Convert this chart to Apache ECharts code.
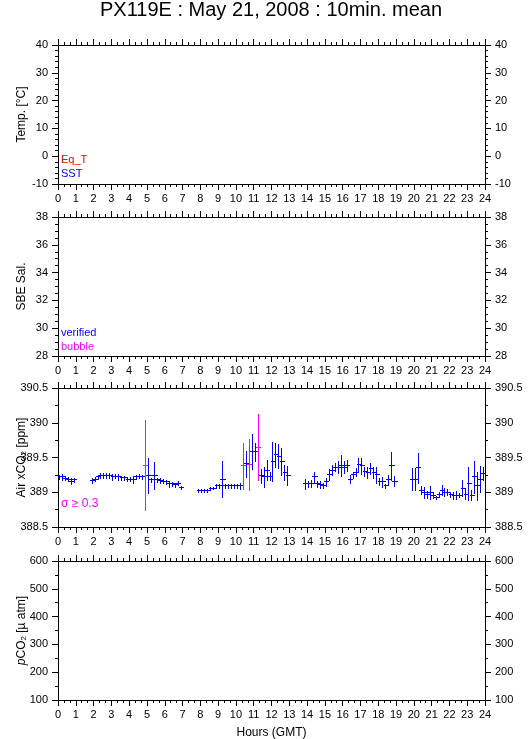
<!DOCTYPE html>
<html>
<head>
<meta charset="utf-8">
<script src="https://cdn.jsdelivr.net/npm/echarts@6/dist/echarts.min.js"></script>
<style>
html,body{margin:0;padding:0;background:#fff;}
#chart{width:529px;height:739px;}
</style>
</head>
<body>
<div id="chart"></div>
<script>
// ---------- data ----------
const hourTicks = [0,1,2,3,4,5,6,7,8,9,10,11,12,13,14,15,16,17,18,19,20,21,22,23,24];
const tempTicks = [-10,0,10,20,30,40];
const salTicks = [28,30,32,34,36,38];
const xco2Ticks = [388.5,389,389.5,390,390.5];
const pco2Ticks = [100,200,300,400,500,600];

const titleText = 'PX119E : May 21, 2008 : 10min. mean';

// 10-minute means (GMT time stamp at the middle of each interval)
const times = [
  '00:05','00:15','00:25','00:35','00:45','00:55',
  '01:55','02:05','02:15','02:25','02:35','02:45','02:55','03:05','03:15','03:25','03:35','03:45','03:55','04:05','04:15','04:25','04:35','04:45','04:55','05:05','05:15','05:25','05:35','05:45','05:55','06:05','06:15','06:25','06:35','06:45','06:55',
  '07:55','08:05','08:15','08:25','08:35','08:45','08:55','09:05','09:15','09:25','09:35','09:45','09:55','10:05','10:15','10:25','10:35','10:45','10:55','11:05','11:15','11:25','11:35','11:45','11:55','12:05','12:15','12:25','12:35','12:45','12:55',
  '13:55','14:05','14:15','14:25','14:35','14:45','14:55','15:05','15:15','15:25','15:35','15:45','15:55','16:05','16:15','16:25','16:35','16:45','16:55','17:05','17:15','17:25','17:35','17:45','17:55','18:05','18:15','18:25','18:35','18:45','18:55',
  '19:55','20:05','20:15','20:25','20:35','20:45','20:55','21:05','21:15','21:25','21:35','21:45','21:55','22:05','22:15','22:25','22:35','22:45','22:55','23:05','23:15','23:25','23:35','23:45','23:55'
];
const airXco2 = [
  389.22,389.22,389.20,389.19,389.16,389.18,
  389.17,389.19,389.22,389.24,389.24,389.24,389.24,389.22,389.23,389.22,389.21,389.21,389.19,389.19,389.18,389.22,389.23,389.22,389.39,389.24,389.18,389.24,389.18,389.17,389.16,389.15,389.12,389.12,389.11,389.13,389.07,
  389.03,389.03,389.03,389.03,389.05,389.06,389.09,389.09,389.19,389.09,389.09,389.09,389.09,389.09,389.09,389.38,389.41,389.40,389.59,389.58,389.65,389.24,389.22,389.32,389.23,389.44,389.54,389.52,389.44,389.28,389.24,
  389.12,389.12,389.13,389.22,389.12,389.11,389.10,389.15,389.26,389.32,389.36,389.36,389.38,389.36,389.38,389.19,389.25,389.29,389.40,389.38,389.30,389.29,389.34,389.29,389.25,389.16,389.15,389.09,389.18,389.38,389.16,
  389.19,389.19,389.35,389.03,389.00,388.97,389.00,388.96,388.93,388.97,389.03,389.00,389.00,388.97,388.96,388.96,388.96,389.06,388.97,389.13,388.96,389.22,389.09,389.19,389.27
];
const airXco2Sigma = [
  0.03,0.04,0.03,0.03,0.04,0.03,
  0.03,0.03,0.03,0.03,0.03,0.03,0.03,0.04,0.03,0.04,0.03,0.03,0.03,0.03,0.05,0.03,0.03,0.03,0.65,0.25,0.03,0.20,0.03,0.03,0.03,0.03,0.04,0.03,0.03,0.03,0.02,
  0.02,0.02,0.02,0.02,0.02,0.02,0.03,0.03,0.26,0.03,0.03,0.03,0.03,0.03,0.04,0.33,0.19,0.37,0.25,0.13,0.48,0.10,0.15,0.14,0.06,0.28,0.17,0.17,0.19,0.11,0.14,
  0.07,0.04,0.05,0.07,0.04,0.05,0.04,0.06,0.08,0.07,0.06,0.09,0.15,0.09,0.08,0.06,0.04,0.06,0.10,0.12,0.07,0.08,0.08,0.08,0.11,0.05,0.07,0.03,0.07,0.20,0.07,
  0.16,0.16,0.22,0.06,0.08,0.05,0.09,0.04,0.02,0.04,0.07,0.06,0.04,0.04,0.05,0.06,0.03,0.12,0.07,0.24,0.07,0.23,0.20,0.19,0.09
];
const sigmaThreshold = 0.3;

// ---------- presentation ----------
const FONT = "'Liberation Sans', Arial, Helvetica, sans-serif";
const BLUE = '#0000ff', MAGENTA = '#ff00ff', RED = '#ff0000';
const GRID_LEFT = 58, GRID_W = 427, GRID_H = 139;
const panelTops = [45, 217, 388, 561];
const halfBarHours = 0.12;

function toHours(s){ const p = s.split(':'); return (+p[0]) + (+p[1])/60; }

const panels = [
  {ticks: tempTicks, minor: 5, name: 'Temp. [°C]'},
  {ticks: salTicks, minor: 4, name: 'SBE Sal.'},
  {ticks: xco2Ticks, minor: 2, name: 'Air xCO{sub|2} [ppm]'},
  {ticks: pco2Ticks, minor: 2, name: '{i|p}CO{sub|2} [µ atm]'}
];

const grids = [], xAxes = [], yAxes = [];
const lineStyle = {color:'#000', width:1};
const labelStyle = {color:'#000', fontSize:11, fontFamily: FONT};
panels.forEach((p, i) => {
  grids.push({left: GRID_LEFT, top: panelTops[i], width: GRID_W, height: GRID_H,
    containLabel:false, outerBoundsMode:'none'});
  const xBase = {
    gridIndex: i, type:'value', min: hourTicks[0], max: hourTicks[hourTicks.length-1],
    interval: hourTicks[1]-hourTicks[0],
    axisLine:{show:true, onZero:false, lineStyle},
    axisTick:{show:true, inside:false, length:6, lineStyle},
    minorTick:{show:true, splitNumber:3, length:3, lineStyle},
    splitLine:{show:false}, minorSplitLine:{show:false}
  };
  xAxes.push(Object.assign({}, xBase, {
    position:'bottom',
    axisLabel:Object.assign({show:true, margin:9}, labelStyle),
    name: i === 3 ? 'Hours (GMT)' : '',
    nameLocation:'middle', nameGap: 27, nameMoveOverlap:false,
    nameTextStyle:{color:'#000', fontSize:12, fontFamily: FONT}
  }));
  xAxes.push(Object.assign({}, xBase, {position:'top', axisLabel:{show:false}}));
  const yBase = {
    gridIndex: i, type:'value', min: p.ticks[0], max: p.ticks[p.ticks.length-1],
    interval: p.ticks[1]-p.ticks[0],
    axisLine:{show:true, onZero:false, lineStyle},
    axisTick:{show:true, inside:false, length:6, lineStyle},
    minorTick:{show:true, splitNumber:p.minor, length:3, lineStyle},
    splitLine:{show:false}, minorSplitLine:{show:false},
    axisLabel:Object.assign({show:true, margin:10}, labelStyle)
  };
  yAxes.push(Object.assign({}, yBase, {
    position:'left', name: p.name, nameLocation:'middle', nameGap: 30, nameRotate: 90,
    nameMoveOverlap:false,
    nameTextStyle:{color:'#000', fontSize:12, fontFamily: FONT,
      rich:{
        sub:{fontSize:8, fontFamily: FONT, color:'#000', verticalAlign:'bottom', padding:[5,0,0,0]},
        i:{fontSize:12, fontFamily: FONT, color:'#000', fontStyle:'italic'}
      }}
  }));
  yAxes.push(Object.assign({}, yBase, {position:'right'}));
});

const xco2Data = times.map((t, k) => [toHours(t), airXco2[k], airXco2Sigma[k]]);

function renderErrorBar(params, api){
  const t = api.value(0), v = api.value(1), s = api.value(2);
  const pTop = api.coord([t, v + s]);
  const pBot = api.coord([t, v - s]);
  const pL = api.coord([t - halfBarHours, v]);
  const pR = api.coord([t + halfBarHours, v]);
  const color = s >= sigmaThreshold ? MAGENTA : BLUE;
  const cx = Math.floor(pTop[0]) + 0.5;
  const cy = Math.floor(pL[1]) + 0.5;
  const st = {stroke: color, lineWidth: 1};
  return {
    type:'group',
    children:[
      {type:'line', shape:{x1:cx, y1:Math.round(pTop[1]), x2:cx, y2:Math.round(pBot[1]) + 1}, style:st},
      {type:'line', shape:{x1:Math.round(pL[0]), y1:cy, x2:Math.round(pR[0]) + 1, y2:cy}, style:st}
    ]
  };
}

const textStyle = (text, x, y, fill, size) => ({
  type:'text', x, y,
  style:{text, fill, font: size + 'px ' + FONT, textAlign:'left', textVerticalAlign:'middle'}
});

const option = {
  animation:false,
  backgroundColor:'#fff',
  grid: grids,
  xAxis: xAxes,
  yAxis: yAxes,
  series:[{
    type:'custom',
    xAxisIndex: 4, yAxisIndex: 4,
    renderItem: renderErrorBar,
    encode:{x:0, y:1},
    data: xco2Data,
    clip:true
  }],
  graphic:[
    {type:'text', x:271, y:10, style:{text:titleText, fill:'#000', font:'20px ' + FONT, textAlign:'center', textVerticalAlign:'middle'}},
    textStyle('Eq_T', 61, 160, RED, 11),
    textStyle('SST', 61, 174, BLUE, 11),
    textStyle('verified', 61, 333, BLUE, 11),
    textStyle('bubble', 61, 346.5, MAGENTA, 11),
    textStyle('σ ≥ 0.3', 61, 504, MAGENTA, 12)
  ]
};

const chart = echarts.init(document.getElementById('chart'), null, {renderer:'canvas'});
chart.setOption(option);
</script>
</body>
</html>
